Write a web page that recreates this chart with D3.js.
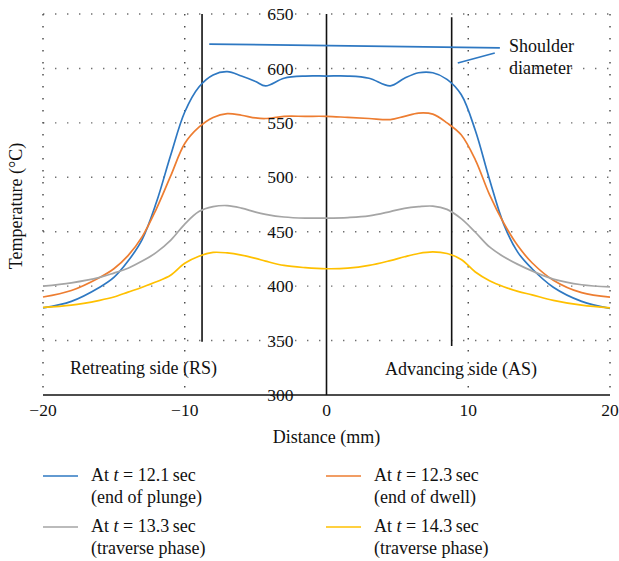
<!DOCTYPE html>
<html>
<head>
<meta charset="utf-8">
<script src="https://cdn.jsdelivr.net/npm/d3@7"></script>
<style>
  html, body { margin: 0; padding: 0; background: #fff; }
  svg { display: block; font-family: "Liberation Serif", "Times New Roman", serif; }
</style>
</head>
<body>
<script>
// Distance from the weld centre line (mm)
const distance = [-20, -18, -16, -15, -14, -13, -12, -11, -10, -9, -8, -7, -6, -5, -4.3, -3, -1.5, 0,
                  1.5, 3, 4.5, 5.5, 6.5, 7.5, 8.5, 9.5, 10.5, 11.5, 12.5, 13.5, 14.5, 16, 18, 20];

// Temperature (°C) at each distance, one array per time step
const tempPlunge = [380, 386, 399, 408, 423, 443, 477, 520, 560, 583, 594, 597, 593, 588, 584, 591, 593, 593,
                    593, 591, 584, 591, 596, 596, 590, 576, 543, 498, 457, 431, 416, 399, 386, 379.5];
const tempDwell = [390, 396, 408, 416, 428, 445.5, 471, 501, 531, 546, 555, 558.5, 557, 554.5, 554, 556, 556, 556,
                   555, 554, 553, 556, 559, 558, 550, 539, 516, 484, 458, 437, 421.5, 405.5, 394, 390];
const tempTraverse1 = [400, 403, 408, 412, 416.5, 423, 431, 442, 457, 468.5, 473, 474, 471.7, 468, 466, 463.5, 462.5, 462.5,
                       463, 464.5, 468.5, 471.5, 473, 473.5, 470.5, 462, 449.5, 436, 427, 420, 414, 406.5, 401.3, 399.3];
const tempTraverse2 = [380.5, 382.5, 387, 390, 394.5, 399, 404, 410, 421, 427.5, 431, 430.5, 428.5, 425.5, 423, 419, 417, 416,
                       416.5, 419, 423.5, 427, 430, 431.4, 430, 424.5, 413, 405, 399.5, 395.2, 392, 387, 382.5, 380];

const seriesNames = ["At t = 12.1 sec|(end of plunge)", "At t = 12.3 sec|(end of dwell)",
                     "At t = 13.3 sec|(traverse phase)", "At t = 14.3 sec|(traverse phase)"];
const seriesColors = ["#2e78c2", "#ed7d31", "#a5a5a5", "#ffc000"];
const seriesValues = [tempPlunge, tempDwell, tempTraverse1, tempTraverse2];

const xTicks = [-20, -10, 0, 10, 20];
const yTicks = [300, 350, 400, 450, 500, 550, 600, 650];
const xGridTicks = [-20, -10, 10, 20];

// Shoulder edges: [distance, top temperature, bottom temperature]
const shoulderEdges = [[-8.78, 650, 349], [8.83, 647, 345]];
// Leader lines for the "Shoulder diameter" note: [x1, y1, x2, y2] in data units
const shoulderLeaders = [[-8.27, 622.4, 12.23, 618.8], [9.26, 605, 11.87, 614.2]];

const W = 619, H = 561;
const svg = d3.select("body").append("svg").attr("width", W).attr("height", H);

const x = d3.scaleLinear().domain([-20, 20]).range([43, 610]);
const y = d3.scaleLinear().domain([300, 650]).range([395, 14]);
const fmt = d3.format("");

// dotted grid
const grid = svg.append("g");
grid.selectAll("line.h").data(yTicks.filter(v => v > 300)).join("line")
  .attr("x1", x(-20)).attr("x2", x(20))
  .attr("y1", d => y(d)).attr("y2", d => y(d))
  .attr("stroke", "#6f6f6f").attr("stroke-width", 1.4)
  .attr("stroke-dasharray", "1.4 10.6");
grid.selectAll("line.v").data(xGridTicks).join("line")
  .attr("x1", d => x(d)).attr("x2", d => x(d))
  .attr("y1", y(650)).attr("y2", y(300))
  .attr("stroke", "#444").attr("stroke-width", 1.4)
  .attr("stroke-dasharray", "1.4 10.6");

// axes lines
svg.append("line").attr("x1", x(-20)).attr("x2", x(20)).attr("y1", y(300)).attr("y2", y(300))
  .attr("stroke", "#111").attr("stroke-width", 1.6);
svg.append("line").attr("x1", x(0)).attr("x2", x(0)).attr("y1", y(650)).attr("y2", y(300))
  .attr("stroke", "#111").attr("stroke-width", 1.6);

// shoulder edge lines
svg.selectAll("line.shoulder").data(shoulderEdges).join("line")
  .attr("x1", d => x(d[0])).attr("x2", d => x(d[0]))
  .attr("y1", d => y(d[1])).attr("y2", d => y(d[2]))
  .attr("stroke", "#111").attr("stroke-width", 1.6);

// curves
const line = d3.line().curve(d3.curveCatmullRom.alpha(0.5))
  .x((d, i) => x(distance[i])).y(d => y(d));
svg.selectAll("path.series").data(seriesValues).join("path")
  .attr("d", d => line(d))
  .attr("fill", "none")
  .attr("stroke", (d, i) => seriesColors[i])
  .attr("stroke-width", 1.7);

// shoulder diameter note
svg.selectAll("line.leader").data(shoulderLeaders).join("line")
  .attr("x1", d => x(d[0])).attr("y1", d => y(d[1]))
  .attr("x2", d => x(d[2])).attr("y2", d => y(d[3]))
  .attr("stroke", "#2e78c2").attr("stroke-width", 1.7);
svg.append("text").attr("x", 509).attr("y", 52).attr("font-size", 18).attr("fill", "#111").text("Shoulder");
svg.append("text").attr("x", 509).attr("y", 74).attr("font-size", 18).attr("fill", "#111").text("diameter");

// tick labels
svg.selectAll("text.yt").data(yTicks).join("text")
  .attr("x", x(0) - 33).attr("y", d => y(d))
  .attr("dy", "0.35em").attr("text-anchor", "end")
  .attr("font-size", 17.5).attr("fill", "#111")
  .text(d => fmt(d));
svg.selectAll("text.xt").data(xTicks).join("text")
  .attr("x", d => x(d)).attr("y", 416)
  .attr("text-anchor", "middle")
  .attr("font-size", 17.5).attr("fill", "#111")
  .text(d => fmt(d));

// axis titles
svg.append("text").attr("x", x(0)).attr("y", 443).attr("text-anchor", "middle")
  .attr("font-size", 18).attr("fill", "#111").text("Distance (mm)");
svg.append("text").attr("transform", "translate(22,206) rotate(-90)").attr("text-anchor", "middle")
  .attr("font-size", 18).attr("fill", "#111").text("Temperature (°C)");

// side labels
svg.append("text").attr("x", 70).attr("y", 374).attr("font-size", 18).attr("fill", "#111").text("Retreating side (RS)");
svg.append("text").attr("x", 385).attr("y", 375).attr("font-size", 18).attr("fill", "#111").text("Advancing side (AS)");

// legend
const legendPos = [[43, 476], [326, 476], [43, 527], [326, 527]];
const lg = svg.selectAll("g.legend").data(seriesNames).join("g")
  .attr("transform", (d, i) => `translate(${legendPos[i][0]},${legendPos[i][1]})`);
lg.append("line").attr("x1", 0).attr("x2", 35).attr("y1", 0).attr("y2", 0)
  .attr("stroke", (d, i) => seriesColors[i]).attr("stroke-width", 1.7);
lg.each(function(d) {
  const parts = d.split("|");
  const t = d3.select(this).append("text").attr("x", 48).attr("y", 5)
    .attr("font-size", 18).attr("fill", "#111");
  const m = parts[0].match(/^At t = (.*) sec$/);
  t.append("tspan").text("At ");
  t.append("tspan").attr("font-style", "italic").text("t");
  t.append("tspan").text(" = " + m[1] + "\u2009sec");
  d3.select(this).append("text").attr("x", 48).attr("y", 27)
    .attr("font-size", 18).attr("fill", "#111").text(parts[1]);
});
</script>
</body>
</html>
